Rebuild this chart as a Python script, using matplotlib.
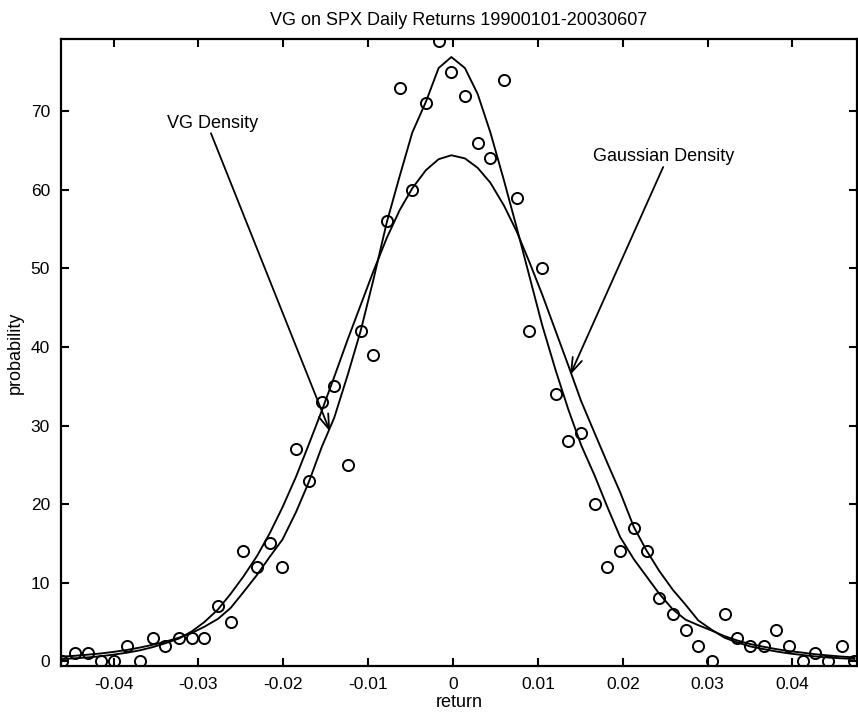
import numpy as np
import matplotlib
matplotlib.use("Agg")
import matplotlib.pyplot as plt

plt.rcParams['font.family'] = ['Liberation Sans', 'DejaVu Sans']
plt.rcParams['axes.unicode_minus'] = False

# bin centres of the daily return histogram
returns = [-0.0461, -0.0446, -0.0430, -0.0415, -0.0400, -0.0384, -0.0369, -0.0354,
           -0.0339, -0.0323, -0.0308, -0.0293, -0.0277, -0.0262, -0.0247, -0.0231,
           -0.0216, -0.0201, -0.0185, -0.0170, -0.0155, -0.0140, -0.0124, -0.0109,
           -0.0094, -0.0078, -0.0063, -0.0048, -0.0032, -0.0017, -0.0002, 0.0014,
           0.0029, 0.0044, 0.0060, 0.0075, 0.0090, 0.0105, 0.0121, 0.0136,
           0.0151, 0.0167, 0.0182, 0.0197, 0.0213, 0.0228, 0.0243, 0.0259,
           0.0274, 0.0289, 0.0305, 0.0320, 0.0335, 0.0350, 0.0366, 0.0381,
           0.0396, 0.0412, 0.0427, 0.0442, 0.0458, 0.0473]

# empirical histogram
counts = [0, 1, 1, 0, 0, 2, 0, 3, 2, 3, 3, 3, 7, 5, 14, 12,
          15, 12, 27, 23, 33, 35, 25, 42, 39, 56, 73, 60, 71, 79, 75, 72,
          66, 64, 74, 59, 42, 50, 34, 28, 29, 20, 12, 14, 17, 14, 8, 6,
          4, 2, 0, 6, 3, 2, 2, 4, 2, 0, 1, 0, 2, 0]

# fitted variance gamma density
vg_density = [0.6, 0.7, 0.85, 1.0, 1.2, 1.45, 1.75, 2.1, 2.5, 3.0, 3.6, 4.4, 5.4, 6.8, 8.8, 11.0,
              13.3, 15.5, 19.0, 22.8, 27.2, 31.0, 36.5, 42.0, 48.5, 55.9, 61.7, 67.3, 71.2, 75.5, 76.9, 75.5,
              72.2, 67.3, 61.2, 55.2, 49.0, 42.8, 37.0, 32.0, 27.5, 23.6, 19.6, 15.8, 13.0, 10.8, 8.6, 6.6,
              5.3, 4.6, 3.9, 3.2, 2.65, 2.2, 1.85, 1.55, 1.3, 1.1, 0.9, 0.75, 0.6, 0.5]

# fitted normal density
gauss_density = [0.28, 0.38, 0.5, 0.65, 0.85, 1.1, 1.4, 1.8, 2.3, 2.9, 3.8, 5.0, 6.6, 8.6, 10.8, 13.4,
                 16.3, 19.6, 23.5, 27.6, 31.8, 36.2, 41.0, 45.3, 49.6, 53.9, 57.4, 60.2, 62.5, 63.9, 64.4, 64.0,
                 62.8, 60.9, 58.0, 54.7, 50.8, 46.7, 42.0, 37.6, 33.1, 29.0, 25.2, 21.5, 17.1, 14.1, 11.5, 9.1,
                 7.2, 5.2, 4.0, 3.0, 2.4, 1.9, 1.55, 1.25, 1.0, 0.8, 0.62, 0.48, 0.38, 0.3]

xticks = [-0.04, -0.03, -0.02, -0.01, 0, 0.01, 0.02, 0.03, 0.04]
xtick_labels = ['-0.04', '-0.03', '-0.02', '-0.01', '0', '0.01', '0.02', '0.03', '0.04']
yticks = [0, 10, 20, 30, 40, 50, 60, 70]

fig = plt.figure(figsize=(8.58, 7.15), dpi=100)
ax = fig.add_axes([0.0711, 0.0685, 0.9277, 0.877])

ax.plot(returns, counts, linestyle='none', marker='o', ms=8, mfc='none',
        mec='k', mew=1.4)
ax.plot(returns, vg_density, color='k', lw=1.35)
ax.plot(returns, gauss_density, color='k', lw=1.35)

ax.set_xlim(-0.0462, 0.0476)
ax.set_ylim(-0.6, 79.2)
ax.set_xticks(xticks)
ax.set_xticklabels(xtick_labels)
ax.set_yticks(yticks)
ax.tick_params(direction='in', length=6, width=1.5, top=True, right=True,
               labelsize=12.5, pad=8)
for s in ax.spines.values():
    s.set_linewidth(1.6)

ax.set_title('VG on SPX Daily Returns 19900101-20030607', fontsize=13, pad=10)
ax.set_xlabel('return', fontsize=13, labelpad=1)
ax.set_ylabel('probability', fontsize=13, labelpad=5)

arrow = dict(arrowstyle='->,head_length=0.6,head_width=0.2', color='k', lw=1.3,
             mutation_scale=18, shrinkA=0, shrinkB=0)
ax.text(-0.0337, 68.5, 'VG Density', fontsize=13, ha='left', va='center')
ax.annotate('', xy=(-0.01448, 29.2), xytext=(-0.02853, 67.2), arrowprops=arrow)
ax.text(0.01649, 64.2, 'Gaussian Density', fontsize=13, ha='left', va='center')
ax.annotate('', xy=(0.01378, 36.4), xytext=(0.02476, 62.9), arrowprops=arrow)

fig.savefig('out.png', dpi=100)
